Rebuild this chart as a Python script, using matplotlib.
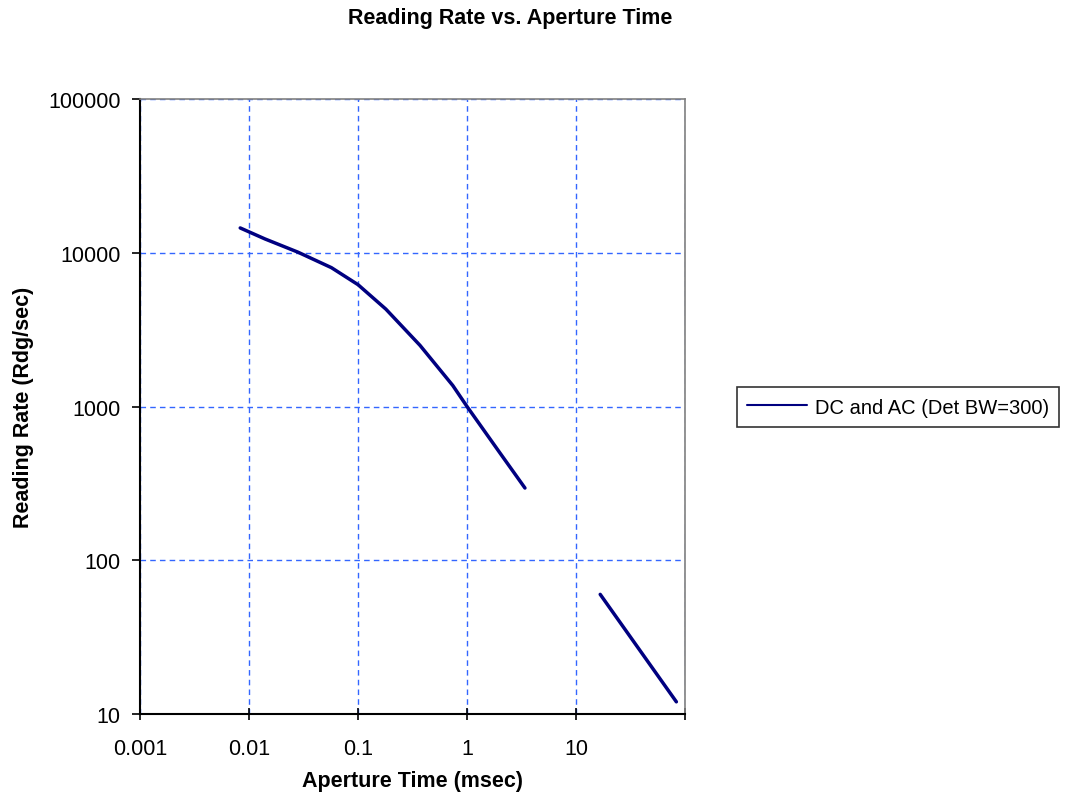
import numpy as np
import matplotlib.pyplot as plt
from matplotlib.ticker import FixedLocator, NullLocator

plt.rcParams['font.family'] = ['Liberation Sans', 'DejaVu Sans']

# Datos (tiempo de apertura en ms, lecturas por segundo)
aperture_ms = [0.0083, 0.014, 0.028, 0.057, 0.1, 0.18, 0.37, 0.74, 1, 2, 3.4,
               np.nan, 16.67, 83.3]
rate_rdg = [14500, 12300, 10100, 8000, 6200, 4300, 2500, 1370, 1000, 500, 295,
            np.nan, 60, 12]

x_ticks = [0.001, 0.01, 0.1, 1, 10, 100]
x_labels = ["0.001", "0.01", "0.1", "1", "10", ""]
y_ticks = [10, 100, 1000, 10000, 100000]
y_labels = ["10", "100", "1000", "10000", "100000"]

fig = plt.figure(figsize=(10.65, 8.04), dpi=100)
ax = fig.add_axes([0.1315, 0.1107, 0.5117, 0.7649])

ax.plot(aperture_ms, rate_rdg, color='#000080', linewidth=2.5,
        label="DC and AC (Det BW=300)", solid_capstyle='round')

ax.set_xscale('log')
ax.set_yscale('log')
ax.set_xlim(0.001, 100)
ax.set_ylim(10, 100000)

ax.xaxis.set_major_locator(FixedLocator(x_ticks))
ax.yaxis.set_major_locator(FixedLocator(y_ticks))
ax.xaxis.set_minor_locator(NullLocator())
ax.yaxis.set_minor_locator(NullLocator())
ax.set_xticklabels(x_labels)
ax.set_yticklabels(y_labels)
ax.tick_params(axis='x', direction='inout', length=8, width=1.2, labelsize=15.5, pad=13)
ax.tick_params(axis='y', direction='out', length=6, width=1.2, labelsize=15.5, pad=8)

# Grilla azul punteada
ax.grid(True, color='#3366FF', linestyle=(0, (4, 3)), linewidth=1)

for side in ['left', 'bottom']:
    ax.spines[side].set_color('black')
    ax.spines[side].set_linewidth(1.5)
for side in ['top', 'right']:
    ax.spines[side].set_color('#808080')
    ax.spines[side].set_linewidth(1.2)

ax.set_xlabel("Aperture Time (msec)", fontsize=15.5, fontweight='bold', labelpad=8)
ax.set_ylabel("Reading Rate (Rdg/sec)", fontsize=15.5, fontweight='bold', labelpad=10)
fig.text(0.479, 0.977, "Reading Rate vs. Aperture Time", fontsize=15.5,
         fontweight='bold', ha='center', va='center')

leg = fig.legend(loc='center left', bbox_to_anchor=(0.692, 0.4925), fontsize=14.5,
                 frameon=True, fancybox=False, borderpad=0.5, handlelength=3.0,
                 handletextpad=0.35, borderaxespad=0)
leg.get_frame().set_edgecolor('black')
leg.get_frame().set_linewidth(1.2)
leg.get_lines()[0].set_linewidth(1.5)

fig.savefig("out.png", dpi=100)
